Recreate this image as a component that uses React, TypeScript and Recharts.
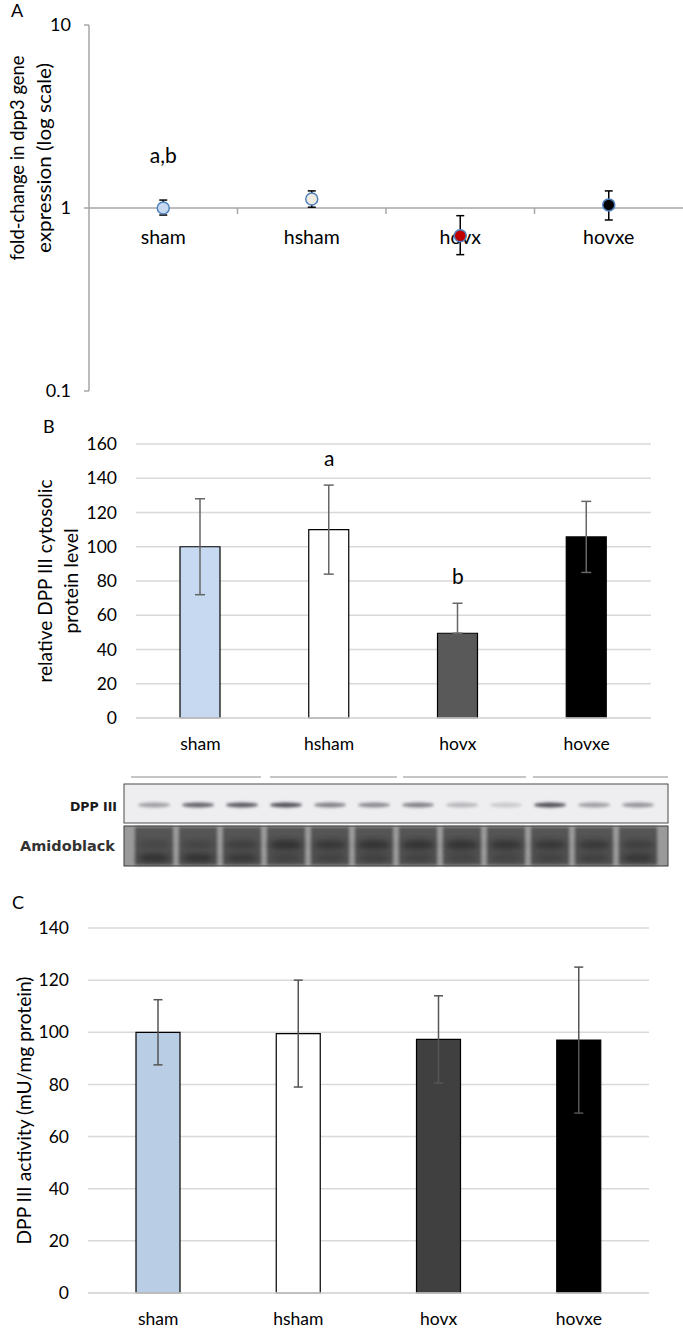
import React from 'react';
import {
  ComposedChart,
  Bar,
  Scatter,
  XAxis,
  YAxis,
  ErrorBar,
  ReferenceLine,
  ReferenceDot,
  CartesianGrid,
  Cell,
} from 'recharts';

// ---------- shared ----------
const groups = ['sham', 'hsham', 'hovx', 'hovxe'];

// ---------- Panel A (log scale fold change) ----------
const foldChange = [1.0, 1.12, 0.705, 1.04];
const foldLow = [0.915, 1.01, 0.556, 0.86];
const foldHigh = [1.105, 1.24, 0.908, 1.24];
const pointFillsA = ['#c6d9f1', '#eeece1', '#c00000', '#000000'];
const logTicks = [0.1, 1, 10];
const annotA = [{ x: 0.5, y: 1.97, text: 'a,b' }];

// ---------- Panel B (protein level) ----------
const proteinLevel = [100, 110, 49.5, 105.75];
const proteinErrLow = [28, 26, 0, 20.75];
const proteinErrHigh = [28, 26, 17.5, 20.75];
const barFillsB = ['#c6d9f0', '#ffffff', '#595959', '#000000'];
const ticksB = [0, 20, 40, 60, 80, 100, 120, 140, 160];
const annotB = [
  { group: 'hsham', y: 152, text: 'a' },
  { group: 'hovx', y: 83.5, text: 'b' },
];

// ---------- Blot (12 lanes, 3 per group) ----------
const dppBandIntensity = [0.4, 0.7, 0.75, 0.8, 0.55, 0.5, 0.55, 0.28, 0.18, 0.8, 0.4, 0.45];
const amidoUpperBand = [0.35, 0.4, 0.55, 0.9, 0.75, 0.85, 0.85, 0.85, 0.8, 0.75, 0.7, 0.55];
const amidoLowerBand = [0.9, 0.9, 0.75, 0.5, 0.5, 0.55, 0.5, 0.45, 0.45, 0.5, 0.55, 0.8];

// ---------- Panel C (activity) ----------
const activity = [100, 99.5, 97.25, 97];
const activityErr = [12.5, 20.5, 16.75, 28];
const barFillsC = ['#b9cde5', '#ffffff', '#404040', '#000000'];
const ticksC = [0, 20, 40, 60, 80, 100, 120, 140];

const dataA = groups.map((g, i) => ({
  name: g,
  x: i + 0.5,
  y: foldChange[i],
  err: [foldChange[i] - foldLow[i], foldHigh[i] - foldChange[i]],
  fill: pointFillsA[i],
}));
const labelPtsA = groups.map((g, i) => ({ name: g, x: i + 0.5, y: 1 }));
const boundaryPtsA = [1, 2, 3].map((b) => ({ x: b, y: 1 }));

const dataB = groups.map((g, i) => ({
  name: g,
  v: proteinLevel[i],
  err: [proteinErrLow[i], proteinErrHigh[i]],
}));

const dataC = groups.map((g, i) => ({
  name: g,
  v: activity[i],
  err: activityErr[i],
}));

const TICK_FONT = 'Lato, "Liberation Sans", sans-serif';
const TITLE_FONT = 'Lato, "Open Sans", sans-serif';
const TICK_SIZE = 17.5;
const TITLE_SIZE = 18.5;

function MultiTitle(props: any) {
  const { viewBox, lines, xs, lens, dy = 0, fontSize = TITLE_SIZE } = props;
  const vb = viewBox || { x: 0, y: 0, width: 0, height: 0 };
  const cy = vb.y + vb.height / 2 + dy;
  return (
    <g>
      {lines.map((t: string, i: number) => (
        <text
          key={i}
          x={xs[i]}
          y={cy}
          transform={`rotate(-90, ${xs[i]}, ${cy})`}
          textAnchor="middle"
          dominantBaseline="central"
          fontFamily={TITLE_FONT}
          fontSize={fontSize}
          textLength={lens ? lens[i] : undefined}
          lengthAdjust="spacingAndGlyphs"
          fill="#000"
        >
          {t}
        </text>
      ))}
    </g>
  );
}

function PanelLetter({ x, y, ch }: { x: number; y: number; ch: string }) {
  return (
    <div
      style={{
        position: 'absolute',
        left: x,
        top: y,
        fontFamily: TICK_FONT,
        fontSize: 18,
        lineHeight: '20px',
        color: '#000',
      }}
    >
      {ch}
    </div>
  );
}

const textShape = (text: string, size: number) => (p: any) => (
  <text
    x={p.cx}
    y={p.cy}
    textAnchor="middle"
    dominantBaseline="central"
    fontFamily={TICK_FONT}
    fontSize={size}
    fill="#000"
  >
    {text}
  </text>
);

function PanelA() {
  return (
    <ComposedChart width={683} height={400} margin={{ top: 25, right: 0, bottom: 9, left: 0 }}>
      <XAxis type="number" dataKey="x" domain={[0, 4]} hide />
      <YAxis
        type="number"
        dataKey="y"
        scale="log"
        domain={[0.1, 10]}
        ticks={logTicks}
        interval={0}
        allowDataOverflow
        width={89}
        axisLine={{ stroke: '#a6a6a6', strokeWidth: 1.5 }}
        tickLine={{ stroke: '#a6a6a6', strokeWidth: 1.5 }}
        tickSize={5}
        tickMargin={13}
        tick={{ fill: '#000', fontSize: 18, fontFamily: TICK_FONT }}
        tickFormatter={(v: number) => String(v)}
        label={{
          content: (p: any) => (
            <MultiTitle
              {...p}
              lines={['fold-change in dpp3 gene', 'expression (log scale)']}
              xs={[17, 44]}
              lens={[205, 190]}
              dy={-50}
            />
          ),
        }}
      />
      <ReferenceLine y={1} stroke="#a6a6a6" strokeWidth={1.5} />
      <Scatter
        data={boundaryPtsA}
        isAnimationActive={false}
        shape={(p: any) => (
          <line x1={p.cx} x2={p.cx} y1={p.cy} y2={p.cy + 6} stroke="#a6a6a6" strokeWidth={1.5} />
        )}
      />
      <Scatter
        data={labelPtsA}
        isAnimationActive={false}
        shape={(p: any) => (
          <text
            x={p.cx}
            y={p.cy + 28}
            textAnchor="middle"
            dominantBaseline="central"
            fontFamily={TICK_FONT}
            fontSize={19.5}
            fill="#000"
          >
            {p.payload?.name}
          </text>
        )}
      />
      <Scatter
        data={dataA}
        isAnimationActive={false}
        shape={(p: any) => (
          <circle cx={p.cx} cy={p.cy} r={6} fill={p.payload?.fill} stroke="#4f81bd" strokeWidth={1.5} />
        )}
      >
        <ErrorBar dataKey="err" direction="y" width={4} stroke="#000" strokeWidth={1.5} />
      </Scatter>
      {annotA.map((a, i) => (
        <ReferenceDot key={i} x={a.x} y={a.y} ifOverflow="visible" shape={textShape(a.text, 21)} />
      ))}
    </ComposedChart>
  );
}

function PanelB() {
  return (
    <ComposedChart width={683} height={360} data={dataB} margin={{ top: 44, right: 32, bottom: 0, left: 0 }}>
      <CartesianGrid vertical={false} stroke="#d9d9d9" strokeWidth={1.5} />
      <XAxis
        dataKey="name"
        height={42}
        axisLine={{ stroke: '#d9d9d9', strokeWidth: 1.5 }}
        tickLine={false}
        tickMargin={14}
        interval={0}
        tick={{ fill: '#000', fontSize: TICK_SIZE, fontFamily: TICK_FONT }}
      />
      <YAxis
        type="number"
        domain={[0, 160]}
        ticks={ticksB}
        interval={0}
        width={136}
        axisLine={false}
        tickLine={false}
        tickMargin={13}
        tick={{ fill: '#000', fontSize: TICK_SIZE, fontFamily: TICK_FONT }}
        label={{
          content: (p: any) => (
            <MultiTitle
              {...p}
              lines={['relative DPP III cytosolic', 'protein level']}
              xs={[45, 71]}
              lens={[203, 105]}
            />
          ),
        }}
      />
      <Bar dataKey="v" barSize={40} stroke="#000" strokeWidth={1.2} isAnimationActive={false}>
        {dataB.map((d, i) => (
          <Cell key={d.name} fill={barFillsB[i]} />
        ))}
        <ErrorBar dataKey="err" width={5} stroke="#666" strokeWidth={1.5} />
      </Bar>
      {annotB.map((a, i) => (
        <ReferenceDot key={i} x={a.group} y={a.y} ifOverflow="visible" shape={textShape(a.text, 21)} />
      ))}
    </ComposedChart>
  );
}

function Blot() {
  const laneX = (i: number) => 154 + 44 * i;
  const top = 770;
  const groupLines = [
    [131, 261],
    [270, 397],
    [403, 526],
    [533, 668],
  ];
  return (
    <svg width={683} height={110} style={{ position: 'absolute', left: 0, top }}>
      <defs>
        <filter id="blurS" x="-20%" y="-100%" width="140%" height="300%">
          <feGaussianBlur stdDeviation="1.6" />
        </filter>
        <filter id="blurL" x="-20%" y="-50%" width="140%" height="200%">
          <feGaussianBlur stdDeviation="3" />
        </filter>
      </defs>
      {groupLines.map(([a, b], i) => (
        <line key={i} x1={a} x2={b} y1={7} y2={7} stroke="#8c8c8c" strokeWidth={1.2} />
      ))}
      {/* DPP III strip */}
      <rect x={124} y={14} width={544} height={39} fill="#eeeef0" stroke="#4a4a4a" strokeWidth={1} />
      {dppBandIntensity.map((v, i) => (
        <ellipse
          key={i}
          cx={laneX(i)}
          cy={35}
          rx={16}
          ry={2.4}
          fill="#2a2a34"
          opacity={v}
          filter="url(#blurS)"
        />
      ))}
      {/* Amidoblack strip */}
      <rect x={124} y={56} width={544} height={40} fill="#9a9a9a" />
      {dppBandIntensity.map((_, i) => (
        <rect
          key={'l' + i}
          x={laneX(i) - 19}
          y={57}
          width={38}
          height={38}
          fill="#555555"
          filter="url(#blurS)"
        />
      ))}
      {amidoUpperBand.map((v, i) => (
        <ellipse
          key={'u' + i}
          cx={laneX(i)}
          cy={75}
          rx={17}
          ry={5}
          fill="#2a2a2a"
          opacity={v}
          filter="url(#blurL)"
        />
      ))}
      {amidoLowerBand.map((v, i) => (
        <ellipse
          key={'d' + i}
          cx={laneX(i)}
          cy={88}
          rx={17}
          ry={4}
          fill="#262626"
          opacity={v}
          filter="url(#blurL)"
        />
      ))}
      <rect x={124} y={56} width={544} height={40} fill="none" stroke="#3a3a3a" strokeWidth={1} />
      <text
        x={117}
        y={36}
        textAnchor="end"
        dominantBaseline="central"
        fontFamily='"DejaVu Sans", sans-serif'
        fontWeight="bold"
        fontSize={12.5}
        fill="#1a1a1a"
      >
        DPP III
      </text>
      <text
        x={115}
        y={76}
        textAnchor="end"
        dominantBaseline="central"
        fontFamily='"DejaVu Sans", sans-serif'
        fontWeight="bold"
        fontSize={14.5}
        fill="#333"
      >
        Amidoblack
      </text>
    </svg>
  );
}

function PanelC() {
  return (
    <ComposedChart width={683} height={462} data={dataC} margin={{ top: 48, right: 34, bottom: 0, left: 0 }}>
      <CartesianGrid vertical={false} stroke="#d9d9d9" strokeWidth={1.5} />
      <XAxis
        dataKey="name"
        height={49}
        axisLine={{ stroke: '#d9d9d9', strokeWidth: 1.5 }}
        tickLine={false}
        tickMargin={14}
        interval={0}
        tick={{ fill: '#000', fontSize: TICK_SIZE, fontFamily: TICK_FONT }}
      />
      <YAxis
        type="number"
        domain={[0, 140]}
        ticks={ticksC}
        interval={0}
        width={88}
        axisLine={false}
        tickLine={false}
        tickMargin={13}
        tick={{ fill: '#000', fontSize: TICK_SIZE, fontFamily: TICK_FONT }}
        label={{
          content: (p: any) => (
            <MultiTitle {...p} lines={['DPP III activity (mU/mg protein)']} xs={[24]} lens={[268]} />
          ),
        }}
      />
      <Bar dataKey="v" barSize={44} stroke="#000" strokeWidth={1.2} isAnimationActive={false}>
        {dataC.map((d, i) => (
          <Cell key={d.name} fill={barFillsC[i]} />
        ))}
        <ErrorBar dataKey="err" width={4.5} stroke="#555" strokeWidth={1.5} />
      </Bar>
    </ComposedChart>
  );
}

export default function App() {
  return (
    <div
      style={{
        position: 'absolute',
        left: 0,
        top: 0,
        width: 683,
        height: 1342,
        background: '#fff',
        overflow: 'hidden',
      }}
    >
      <div style={{ position: 'absolute', left: 0, top: 0 }}>
        <PanelA />
      </div>
      <div style={{ position: 'absolute', left: 0, top: 400 }}>
        <PanelB />
      </div>
      <Blot />
      <div style={{ position: 'absolute', left: 0, top: 880 }}>
        <PanelC />
      </div>
      <PanelLetter x={11} y={0} ch="A" />
      <PanelLetter x={43} y={416} ch="B" />
      <PanelLetter x={12} y={892} ch="C" />
    </div>
  );
}
